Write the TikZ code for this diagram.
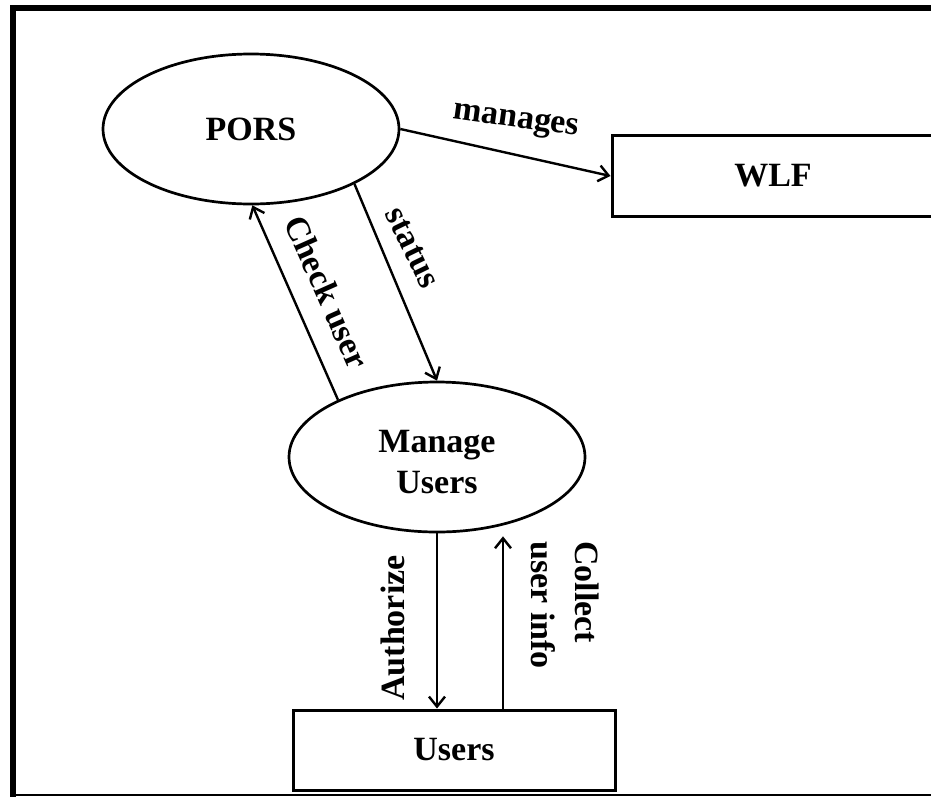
\documentclass[tikz,border=0pt]{standalone}
\usepackage{fontspec}
\setmainfont{Liberation Serif}
\usetikzlibrary{shapes.geometric,arrows.meta}

\tikzset{
  txt/.style={font=\bfseries\fontsize{34}{41}\selectfont, text=black},
  process/.style={txt, draw, ellipse, line width=2.7pt, minimum width=296pt,
                  minimum height=150pt, inner sep=0pt, align=center},
  entity/.style={txt, draw, rectangle, line width=3pt, minimum width=322pt,
                 inner sep=0pt},
  flow/.style={line width=2.4pt, -{Straight Barb[length=10pt,width=16pt,line width=2.4pt]}},
  flowlabel/.style={txt, inner sep=0pt}
}

\begin{document}
\begin{tikzpicture}[x=1pt, y=-1pt]
  \useasboundingbox (0,0) rectangle (931,796);

  % outer frame: heavy top and left rules, thin bottom rule
  \draw[line width=6pt] (13,8) -- (940,8);
  \draw[line width=6pt] (13,5) -- (13,800);
  \draw[line width=1.8pt] (10,795) -- (940,795);

  % processes
  \node[process] (pors) at (251,129) {PORS};
  \node[process] (mu) at (437,457) {};
  \node[txt, align=center, inner sep=0pt] (mutext) at ([yshift=-5pt]mu.center) {Manage\\Users};

  % external entities
  \node[entity, minimum height=81pt] (wlf) at (773,176) {WLF};
  \node[entity, minimum height=80pt] (users) at (454,750) {Users};

  % data flows
  \draw[flow] (pors.east) -- (wlf.west);
  \draw[flow] (mu.150.8) -- (pors.271.5);
  \draw[flow] (pors.332.6) -- (mu.90);
  \draw[flow] (mu.south) -- (mu.south |- users.north);
  \draw[flow] ([xshift=49pt]users.north) -- ([xshift=66pt,yshift=-3pt]mu.south);

  % flow labels
  \node[flowlabel, rotate=-8] (lmanages) at (516,122) {manages};
  \node[flowlabel, rotate=-66] (lcheck) at (327,292) {Check user};
  \node[flowlabel, rotate=-64] (lstatus) at (412,248) {status};
  \node[flowlabel, rotate=90] (lauth) at (393,628) {Authorize};
  \node[flowlabel, rotate=-90, align=left, font=\bfseries\fontsize{34}{44}\selectfont]
       (lcollect) at (565,605) {Collect\\user info};
\end{tikzpicture}
\end{document}
